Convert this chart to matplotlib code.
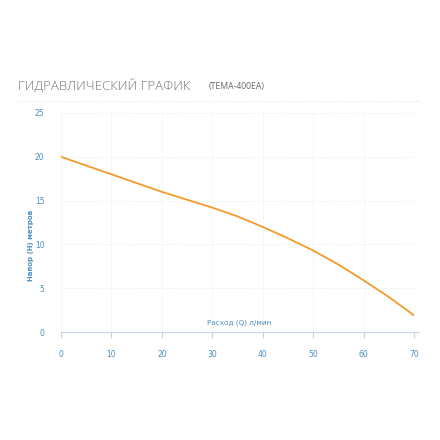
import matplotlib
matplotlib.use("Agg")
import matplotlib.pyplot as plt

flow = [0, 10, 20, 30, 35, 40, 45, 50, 55, 60, 65, 70]
head = [20, 18, 16, 14.2, 13.2, 12, 10.7, 9.3, 7.7, 5.9, 4.0, 1.9]
xticks = [0, 10, 20, 30, 40, 50, 60, 70]
yticks = [0, 5, 10, 15, 20, 25]

fig = plt.figure(figsize=(4.4, 4.4), dpi=100)
ax = fig.add_axes([61/440, 1-332/440, (414-61)/440, (332-113)/440])
ax.plot(flow, head, color="#f39a2a", lw=1.3)
ax.set_xlim(0, 70)
ax.set_ylim(0, 25)
ax.set_xticks(xticks)
ax.set_yticks(yticks)
blue = "#4a8fc0"
ax.tick_params(axis="x", colors="#c8d4e3", labelcolor=blue, labelsize=5.5, length=4, pad=9)
ax.tick_params(axis="y", length=0, labelcolor=blue, labelsize=5.5, pad=12)
ax.grid(True, color="#e6e9ee", ls=":", lw=0.7)
for s in ["top", "right", "left"]:
    ax.spines[s].set_visible(False)
ax.spines["bottom"].set_color("#c8d4e3")
ax.spines["bottom"].set_bounds(0, 71)
ax.text(0.415, 0.035, "Расход (Q) л/мин", transform=ax.transAxes, color=blue, fontsize=5.2)
fig.text(31/440, 1-245/440, "Напор (H) метров", rotation=90, color=blue, fontsize=5,
         ha="center", va="center", fontweight="bold")
fig.text(18/440, 1-86/440, "ГИДРАВЛИЧЕСКИЙ ГРАФИК", color="#777777", fontsize=9.5,
         va="center", family="Open Sans", fontweight="light")
fig.text(209/440, 1-86/440, "(ТЕМА-400ЕА)", color="#666666", fontsize=6.2, va="center",
         family="Open Sans")
fig.add_artist(plt.Line2D([18/440, 420/440], [1-101/440, 1-101/440], color="#e2e5ea", ls=":", lw=0.8))
fig.savefig("out.png", dpi=100)
